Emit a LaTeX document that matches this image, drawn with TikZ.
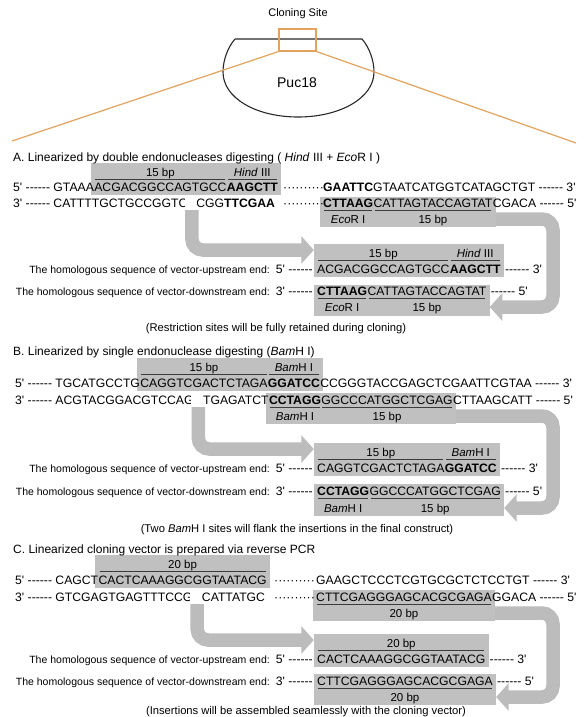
\documentclass[tikz,border=0pt]{standalone}
\usepackage{fontspec}
\setmainfont{Liberation Sans}[Ligatures=TeXOff]
\usetikzlibrary{arrows.meta,fit,backgrounds}
\definecolor{boxgray}{RGB}{192,192,192}
\definecolor{arrgray}{RGB}{188,188,188}
\definecolor{ulc}{RGB}{60,60,60}
\definecolor{orng}{RGB}{228,162,92}
\definecolor{outl}{RGB}{40,40,40}
\begin{document}
\begin{tikzpicture}[x=1pt,y=-1pt,
  seq/.style={font=\fontsize{12.2}{14}\selectfont, inner sep=0pt, anchor=base west},
  lab/.style={font=\fontsize{11.5}{13}\selectfont, inner sep=0pt, anchor=base},
  ttl/.style={font=\fontsize{12}{14}\selectfont, inner sep=0pt, anchor=base west},
  captxt/.style={font=\fontsize{11.2}{13}\selectfont, inner sep=0pt, anchor=base},
  side/.style={font=\fontsize{10.5}{12}\selectfont, inner sep=0pt, anchor=base east},
  uline/.style={draw=ulc, line width=1.6pt, shorten >=1.2pt, shorten <=1.2pt},
  gbox/.style={fill=boxgray, inner xsep=3pt, inner ysep=0pt},
  garrow/.style={draw=arrgray, line width=13.5pt, rounded corners=11pt, -{Triangle[length=12.5pt,width=27pt]}},
  whitecut/.style={fill=white}
]
\useasboundingbox (0,0) rectangle (584,717);

% ---------- plasmid ----------
\draw[outl, line width=1.1pt] (235,39) -- (362,39) .. controls (369,47) and (374,60) .. (374,72)
  .. controls (374,98) and (340,117) .. (298,117) .. controls (256,117) and (223,98) .. (223,72)
  .. controls (223,60) and (228,47) .. (235,39);
\node[font=\fontsize{14}{16}\selectfont] (puc) at (297,83) {Puc18};
\node[font=\fontsize{11}{13}\selectfont] (cst) at (298,14) {Cloning Site};
\node[draw=orng, line width=1.2pt, minimum width=37pt, minimum height=22pt, inner sep=0pt] (cs) at (297.5,40) {};
\coordinate (lend) at (12,141);
\coordinate (rend) at (576,143);
\draw[orng, line width=1.2pt] (cs.south west) -- (lend);
\draw[orng, line width=1.2pt] (cs.south east) -- (rend);

% ================= A =================
\node[ttl] (tA) at (13,161) {A. Linearized by double endonucleases digesting ( \textit{Hind} III + \textit{Eco}R I )};
\node[seq] (a1a) at (13,191) {5' ------ GTAAA};
\node[seq] (a1b) at (a1a.base east) {ACGACGGCCAGTGCC};
\node[seq] (a1c) at (a1b.base east) {\textbf{AAGCTT}};
\node[seq] (a1d) at (283,191) {··········};
\node[seq] (a1e) at (323,191) {\textbf{GAATTC}GTAATCATGGTCATAGCTGT ------ 3'};
\node[seq] (a2a) at (13,207) {3' ------ CATTTTGCTGCCGGTC};
\node[seq] (a2g) at (a2a.base east) {\phantom{A}};
\node[seq] (a2b) at (a2g.base east) {CGG\textbf{TTCGAA}};
\node[seq] (a2d) at (283,207) {··········};
\node[seq] (a2e) at (323,207) {\textbf{CTTAAG}};
\node[seq] (a2f) at (a2e.base east) {CATTAGTACCAGTAT};
\node[seq] (a2h) at (a2f.base east) {CGACA ------ 5'};
\node[lab] (a1l1) at (a1b.base |- 0,176) {15 bp};
\node[lab] (a1l2) at (a1c.base |- 0,176) {\textit{Hind} III};
\draw[uline] (a1b.west |- 0,179.5) -- (a1b.east |- 0,179.5);
\draw[uline] (a1c.west |- 0,179.5) -- (a1c.east |- 0,179.5);
\node[lab] (a2l1) at (a2e.base |- 0,223) {\textit{Eco}R I};
\node[lab] (a2l2) at (a2f.base |- 0,223) {15 bp};
\draw[uline] (a2e.west |- 0,210.5) -- (a2e.east |- 0,210.5);
\draw[uline] (a2f.west |- 0,210.5) -- (a2f.east |- 0,210.5);
% upstream / downstream
\node[seq] (aus) at (317,273) {ACGACGGCCAGTGCC};
\node[seq] (auh) at (aus.base east) {\textbf{AAGCTT}};
\node[seq, anchor=base east] (aul) at ([xshift=-4pt]aus.base west) {5' ------};
\node[seq] (aur) at ([xshift=4pt]auh.base east) {------ 3'};
\node[side] (aut) at (270,273) {The homologous sequence of vector-upstream end:};
\node[lab] (aul1) at (aus.base |- 0,257) {15 bp};
\node[lab] (aul2) at (auh.base |- 0,257) {\textit{Hind} III};
\draw[uline] (aus.west |- 0,260.5) -- (aus.east |- 0,260.5);
\draw[uline] (auh.west |- 0,260.5) -- (auh.east |- 0,260.5);
\node[seq] (ads) at (317,295) {\textbf{CTTAAG}};
\node[seq] (adt) at (ads.base east) {CATTAGTACCAGTAT};
\node[seq, anchor=base east] (adl) at ([xshift=-4pt]ads.base west) {3' ------};
\node[seq] (adr) at ([xshift=4pt]adt.base east) {------ 5'};
\node[side] (adx) at (270,295) {The homologous sequence of vector-downstream end:};
\draw[uline] (ads.west |- 0,298.5) -- (ads.east |- 0,298.5);
\draw[uline] (adt.west |- 0,298.5) -- (adt.east |- 0,298.5);
\node[lab] (adl1) at (ads.base |- 0,311) {\textit{Eco}R I};
\node[lab] (adl2) at (adt.base |- 0,311) {15 bp};
\node[captxt] (capA) at (276,331) {(Restriction sites will be fully retained during cloning)};
\begin{scope}[on background layer]
  \node[gbox, fit={(a1b.west |- 0,163) (a1c.east |- 0,195)}] (bA1) {};
  \node[gbox, fit={(a2e.west |- 0,197) (a2f.east |- 0,227)}] (bA2) {};
  \node[gbox, fit={(aus.west |- 0,244) (auh.east |- 0,277)}] (bAu) {};
  \node[gbox, fit={(ads.west |- 0,285) (adt.east |- 0,316)}] (bAd) {};
\end{scope}
\fill[whitecut] ([xshift=-2.5pt,yshift=-3pt]a2g.base west) rectangle ([yshift=10pt]a2g.base east);
\draw[garrow] (a2g.base |- 0,210) -- (a2g.base |- 0,250) -- (bAu.west |- 0,250);
\draw[garrow] (bA2.east |- 0,219) -- (553,219) -- (553,307) -- (bAd.east |- 0,307);

% ================= B =================
\node[ttl] (tB) at (13,355) {B. Linearized by single endonuclease digesting (\textit{Bam}H I)};
\node[seq] (b1a) at (15,387) {5' ------ TGCATGCCTG};
\node[seq] (b1b) at (b1a.base east) {CAGGTCGACTCTAGA};
\node[seq] (b1c) at (b1b.base east) {\textbf{GGATCC}};
\node[seq] (b1d) at (b1c.base east) {CCGGGTACCGAGCTCGAATTCGTAA ------ 3'};
\node[seq] (b2a) at (15,404) {3' ------ ACGTACGGACGTCCAG};
\node[seq] (b2g) at (b2a.base east) {\phantom{C}};
\node[seq] (b2b) at (b2g.base east) {TGAGATCT};
\node[seq] (b2e) at (b2b.base east) {\textbf{CCTAGG}};
\node[seq] (b2f) at (b2e.base east) {GGCCCATGGCTCGAG};
\node[seq] (b2h) at (b2f.base east) {CTTAAGCATT ------ 5'};
\node[lab] (b1l1) at (b1b.base |- 0,371) {15 bp};
\node[lab] (b1l2) at (b1c.base |- 0,371) {\textit{Bam}H I};
\draw[uline] (b1b.west |- 0,374.5) -- (b1b.east |- 0,374.5);
\draw[uline] (b1c.west |- 0,374.5) -- (b1c.east |- 0,374.5);
\node[lab] (b2l1) at (b2e.base |- 0,420) {\textit{Bam}H I};
\node[lab] (b2l2) at (b2f.base |- 0,420) {15 bp};
\draw[uline] (b2e.west |- 0,407.5) -- (b2e.east |- 0,407.5);
\draw[uline] (b2f.west |- 0,407.5) -- (b2f.east |- 0,407.5);
\node[seq] (bus) at (317,472) {CAGGTCGACTCTAGA};
\node[seq] (buh) at (bus.base east) {\textbf{GGATCC}};
\node[seq, anchor=base east] (bul) at ([xshift=-4pt]bus.base west) {5' ------};
\node[seq] (bur) at ([xshift=4pt]buh.base east) {------ 3'};
\node[side] (but) at (270,472) {The homologous sequence of vector-upstream end:};
\node[lab] (bul1) at (bus.base |- 0,456) {15 bp};
\node[lab] (bul2) at (buh.base |- 0,456) {\textit{Bam}H I};
\draw[uline] (bus.west |- 0,459.5) -- (bus.east |- 0,459.5);
\draw[uline] (buh.west |- 0,459.5) -- (buh.east |- 0,459.5);
\node[seq] (bds) at (317,495) {\textbf{CCTAGG}};
\node[seq] (bdt) at (bds.base east) {GGCCCATGGCTCGAG};
\node[seq, anchor=base east] (bdl) at ([xshift=-4pt]bds.base west) {3' ------};
\node[seq] (bdr) at ([xshift=4pt]bdt.base east) {------ 5'};
\node[side] (bdx) at (270,495) {The homologous sequence of vector-downstream end:};
\draw[uline] (bds.west |- 0,498.5) -- (bds.east |- 0,498.5);
\draw[uline] (bdt.west |- 0,498.5) -- (bdt.east |- 0,498.5);
\node[lab] (bdl1) at (bds.base |- 0,512) {\textit{Bam}H I};
\node[lab] (bdl2) at (bdt.base |- 0,512) {15 bp};
\node[captxt] (capB) at (297,532) {(Two \textit{Bam}H I sites will flank the insertions in the final construct)};
\begin{scope}[on background layer]
  \node[gbox, fit={(b1b.west |- 0,358) (b1c.east |- 0,391)}] (bB1) {};
  \node[gbox, fit={(b2e.west |- 0,393) (b2f.east |- 0,424)}] (bB2) {};
  \node[gbox, fit={(bus.west |- 0,443) (buh.east |- 0,476)}] (bBu) {};
  \node[gbox, fit={(bds.west |- 0,484) (bdt.east |- 0,516)}] (bBd) {};
\end{scope}
\fill[whitecut] ([xshift=-2.5pt,yshift=-3pt]b2g.base west) rectangle ([yshift=10pt]b2g.base east);
\draw[garrow] (b2g.base |- 0,407) -- (b2g.base |- 0,449) -- (bBu.west |- 0,449);
\draw[garrow] (bB2.east |- 0,416) -- (553,416) -- (553,508) -- (bBd.east |- 0,508);

% ================= C =================
\node[ttl] (tC) at (13,553) {C. Linearized cloning vector is prepared via reverse PCR};
\node[seq] (c1a) at (15,584) {5' ------ CAGCT};
\node[seq] (c1b) at (c1a.base east) {CACTCAAAGGCGGTAATACG};
\node[seq] (c1d) at (274,584) {··········};
\node[seq] (c1e) at (316,584) {GAAGCTCCCTCGTGCGCTCTCCTGT ------ 3'};
\node[seq] (c2a) at (15,601) {3' ------ GTCGAGTGAGTTTCCG};
\node[seq] (c2g) at (c2a.base east) {\phantom{C}};
\node[seq] (c2b) at (c2g.base east) {CATTATGC};
\node[seq] (c2d) at (274,601) {··········};
\node[seq] (c2e) at (316,601) {CTTCGAGGGAGCACGCGAGA};
\node[seq] (c2h) at (c2e.base east) {GGACA ------ 5'};
\node[lab] (c1l1) at (c1b.base |- 0,568) {20 bp};
\draw[uline] (c1b.west |- 0,571.5) -- (c1b.east |- 0,571.5);
\node[lab] (c2l1) at (c2e.base |- 0,617) {20 bp};
\draw[uline] (c2e.west |- 0,604.5) -- (c2e.east |- 0,604.5);
\node[seq] (cus) at (317,663) {CACTCAAAGGCGGTAATACG};
\node[seq, anchor=base east] (cul) at ([xshift=-4pt]cus.base west) {5' ------};
\node[seq] (cur) at ([xshift=4pt]cus.base east) {------ 3'};
\node[side] (cup) at (270,663) {The homologous sequence of vector-upstream end:};
\node[lab] (cul1) at (cus.base |- 0,647) {20 bp};
\draw[uline] (cus.west |- 0,650.5) -- (cus.east |- 0,650.5);
\node[seq] (cds) at (317,685) {CTTCGAGGGAGCACGCGAGA};
\node[seq, anchor=base east] (cdl) at ([xshift=-4pt]cds.base west) {3' ------};
\node[seq] (cdr) at ([xshift=4pt]cds.base east) {------ 5'};
\node[side] (cdx) at (270,685) {The homologous sequence of vector-downstream end:};
\draw[uline] (cds.west |- 0,688.5) -- (cds.east |- 0,688.5);
\node[lab] (cdl1) at (cds.base |- 0,701) {20 bp};
\node[captxt] (capC) at (306,714) {(Insertions will be assembled seamlessly with the cloning vector)};
\begin{scope}[on background layer]
  \node[gbox, fit={(c1b.west |- 0,555) (c1b.east |- 0,588)}] (bC1) {};
  \node[gbox, fit={(c2e.west |- 0,590) (c2e.east |- 0,621)}] (bC2) {};
  \node[gbox, fit={(cus.west |- 0,634) (cus.east |- 0,667)}] (bCu) {};
  \node[gbox, fit={(cds.west |- 0,674) (cds.east |- 0,705)}] (bCd) {};
\end{scope}
\fill[whitecut] ([xshift=-2.5pt,yshift=-3pt]c2g.base west) rectangle ([yshift=10pt]c2g.base east);
\draw[garrow] (c2g.base |- 0,604) -- (c2g.base |- 0,640) -- (bCu.west |- 0,640);
\draw[garrow] (bC2.east |- 0,613) -- (553,613) -- (553,697) -- (bCd.east |- 0,697);
\end{tikzpicture}
\end{document}
